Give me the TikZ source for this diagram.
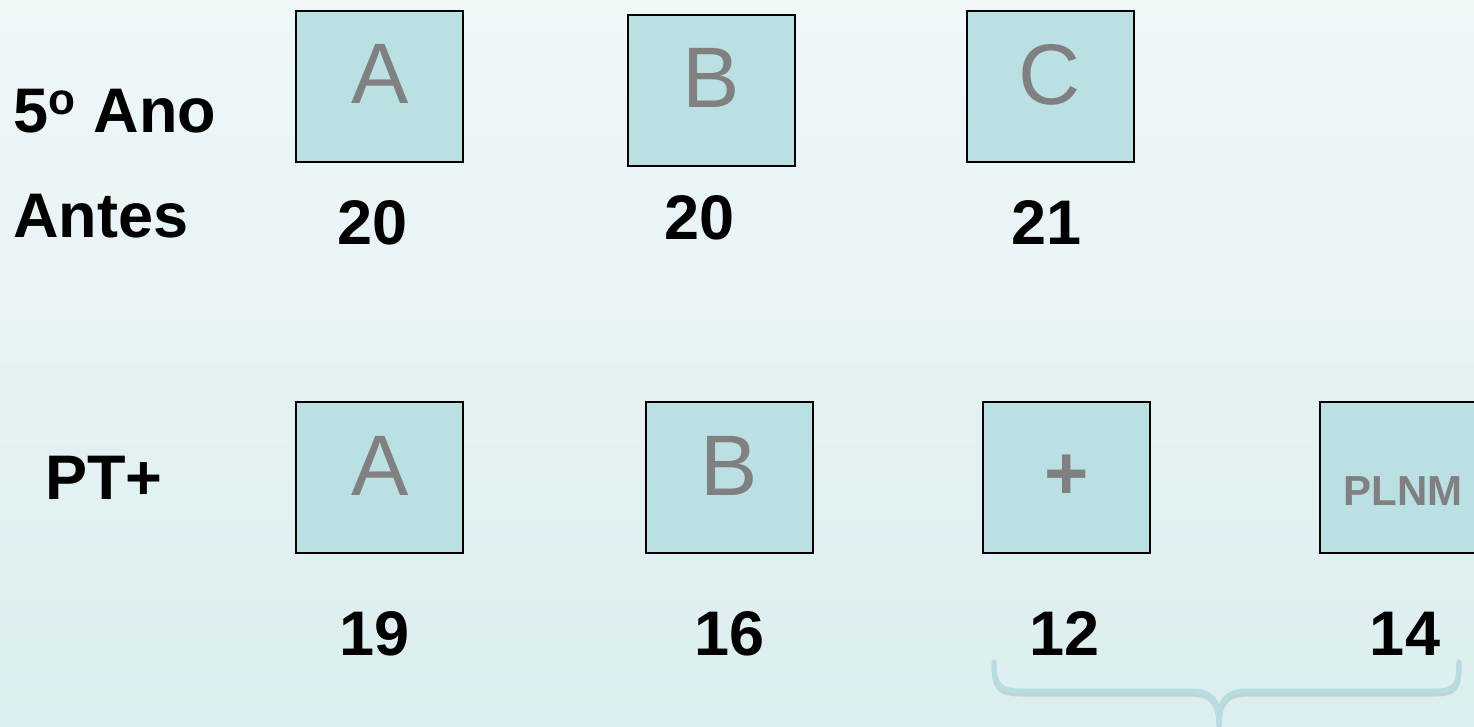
\documentclass[tikz,border=0pt]{standalone}
\usepackage{fontspec}
\setmainfont{Liberation Sans}
\definecolor{bgtop}{HTML}{EFF7F9}
\definecolor{bgbot}{HTML}{DCEEEF}
\definecolor{boxfill}{HTML}{BAE0E3}
\definecolor{lettergray}{HTML}{808080}
\definecolor{bracecol}{HTML}{B5DDE2}
\tikzset{
  classbox/.style={draw=black, line width=1pt, fill=boxfill, minimum width=83.5pt, minimum height=75.5pt, inner sep=0pt, outer sep=0pt},
  bigletter/.style={text=lettergray, font=\fontsize{43}{43}\selectfont, anchor=base, inner sep=0pt},
  rowlabel/.style={font=\fontsize{31.5}{31.5}\selectfont\bfseries, anchor=base west, inner sep=0pt},
  count/.style={font=\fontsize{31.5}{31.5}\selectfont\bfseries, anchor=base, inner sep=0pt},
}
\begin{document}
\begin{tikzpicture}[x=0.5pt,y=-0.5pt]
\useasboundingbox (0,0) rectangle (1474,727);
\shade[top color=bgtop, bottom color=bgbot] (0,0) rectangle (1474,727);

% row labels
\node[rowlabel] (ano) at (13,133) {5\textsuperscript{o} Ano};
\node[rowlabel] (antes) at (13,238) {Antes};
\node[rowlabel] (pt) at (45,500) {PT+};

% top row boxes
\node[classbox] (tA) at (379.5,86.5) {};
\node[classbox] (tB) at (711.5,90.5) {};
\node[classbox] (tC) at (1050.5,86.5) {};
\node[bigletter] (tAl) at (380,104) {A};
\node[bigletter] (tBl) at (711,108) {B};
\node[bigletter] (tCl) at (1050,105) {C};

% top counts
\node[count] (n1) at (373,245) {20};
\node[count] (n2) at (700,240) {20};
\node[count] (n3) at (1047,245) {21};

% bottom row boxes
\node[classbox] (bA) at (379.5,477.5) {};
\node[classbox] (bB) at (729.5,477.5) {};
\node[classbox] (bP) at (1066.5,477.5) {};
\node[classbox] (bL) at (1403.5,477.5) {};
\node[bigletter] (bAl) at (380,495) {A};
\node[bigletter] (bBl) at (729,495) {B};
\node[text=lettergray, font=\fontsize{38}{38}\selectfont\bfseries, anchor=base, inner sep=0pt] (bPl) at (1067,500) {+};
\node[text=lettergray, font=\fontsize{21}{21}\selectfont\bfseries, anchor=base, inner sep=0pt] (bLl) at (1403,505) {PLNM};

% bottom counts
\node[count] (m1) at (375,655) {19};
\node[count] (m2) at (730,655) {16};
\node[count] (m3) at (1065,655) {12};
\node[count] (m4) at (1405,655) {14};

% brace
\foreach \dy/\col/\op in {3/gray/0.25, 0/bracecol/1}{
\draw[line width=2.5pt, line cap=round, line join=round, draw=\col, draw opacity=\op, yshift=-\dy*0.5pt]
  (994,662) .. controls (994,686) and (1000,691) .. (1022,691)
  -- (1190,691) .. controls (1212,691) and (1219,700) .. (1219,724)
  .. controls (1219,700) and (1226,691) .. (1248,691)
  -- (1434,691) .. controls (1455,691) and (1459,686) .. (1459,662);
}
\end{tikzpicture}
\end{document}
